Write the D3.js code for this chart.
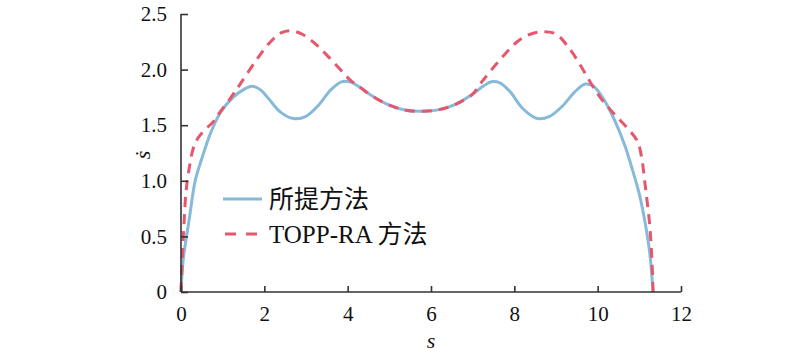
<!DOCTYPE html>
<html><head><meta charset="utf-8">
<script src="https://cdn.jsdelivr.net/npm/d3@7"></script>
<style>
body{margin:0;background:#fff}
svg text, svg tspan{font-family:"Liberation Serif","Times New Roman",serif !important}
svg text.cjk, svg tspan.cjk{font-family:"Noto Sans CJK SC",sans-serif !important}
</style>
</head><body>
<svg id="c" width="800" height="356"></svg>
<script>
const xTicks = [0, 2, 4, 6, 8, 10, 12];
const yTicks = [0, 0.5, 1.0, 1.5, 2.0, 2.5];
const yTickLabels = ["0", "0.5", "1.0", "1.5", "2.0", "2.5"];
const seriesNames = ["所提方法", "TOPP-RA ", "方法"];

const proposedS = [0,0.05,0.1,0.2,0.34,0.5,0.7,0.94,1.25,1.5,1.7,1.9,2.1,2.38,2.7,3.0,3.3,3.6,3.85,4.05,4.3,4.6,5.0,5.4,5.8,6.2,6.6,7.0,7.25,7.45,7.65,7.9,8.2,8.55,8.85,9.15,9.45,9.7,9.9,10.15,10.4,10.65,10.85,11.0,11.15,11.25,11.33];
const proposedV = [0,0.28,0.42,0.66,1.0,1.2,1.42,1.61,1.75,1.82,1.85,1.82,1.74,1.62,1.56,1.58,1.68,1.82,1.89,1.89,1.84,1.76,1.68,1.635,1.625,1.64,1.69,1.78,1.85,1.89,1.88,1.80,1.65,1.56,1.58,1.67,1.80,1.87,1.85,1.73,1.55,1.32,1.08,0.88,0.6,0.35,0];

const toppS = [0,0.03,0.07,0.12,0.2,0.3,0.4,0.55,0.77,0.94,1.18,1.42,1.78,2.1,2.4,2.62,2.9,3.2,3.5,3.8,4.05,4.3,4.6,5.0,5.4,5.8,6.2,6.6,7.0,7.2,7.5,7.8,8.1,8.4,8.7,9.0,9.3,9.6,9.85,10.1,10.4,10.7,10.95,11.05,11.15,11.25,11.3,11.33];
const toppV = [0,0.3,0.6,0.9,1.12,1.3,1.38,1.45,1.53,1.62,1.74,1.87,2.07,2.23,2.33,2.35,2.32,2.24,2.13,2.01,1.91,1.84,1.76,1.68,1.635,1.625,1.64,1.69,1.78,1.88,2.02,2.15,2.26,2.32,2.34,2.32,2.2,2.03,1.87,1.73,1.6,1.48,1.36,1.22,0.93,0.6,0.3,0];

const svg = d3.select("#c");
const x = d3.scaleLinear().domain([0, 12]).range([181, 681]);
const y = d3.scaleLinear().domain([0, 2.5]).range([292, 14]);
const axisColor = "#333";
const serifFont = "Liberation Serif";
const cjkFont = "Noto Sans CJK SC";

const line = d3.line().x(d => x(d[0])).y(d => y(d[1])).curve(d3.curveCatmullRom.alpha(0.5));
const proposed = proposedS.map((s, i) => [s, proposedV[i]]);
const topp = toppS.map((s, i) => [s, toppV[i]]);

svg.append("path").datum(proposed).attr("d", line)
  .attr("fill", "none").attr("stroke", "#86b9da").attr("stroke-width", 3);
svg.append("path").datum(topp).attr("d", line)
  .attr("fill", "none").attr("stroke", "#e5576c").attr("stroke-width", 3)
  .attr("stroke-dasharray", "10,7");

// axes
const xAxis = d3.axisBottom(x).tickValues(xTicks).tickSize(-6).tickPadding(14).tickFormat(d3.format("d"));
const gx = svg.append("g").attr("transform", "translate(0,292)").call(xAxis);
const yAxis = d3.axisLeft(y).tickValues(yTicks).tickSize(-7).tickPadding(14).tickFormat((d, i) => yTickLabels[i]);
const gy = svg.append("g").attr("transform", "translate(181,0)").call(yAxis);
[gx, gy].forEach(g => {
  g.attr("font-family", serifFont).attr("font-size", 21);
  g.select(".domain").attr("stroke", axisColor).attr("stroke-width", 1.6);
  g.selectAll(".tick line").attr("stroke", axisColor).attr("stroke-width", 1.6);
  g.selectAll(".tick text").attr("fill", "#111")
    .style("font-family", serifFont, "important").style("font-size", "21px");
});
gx.select(".domain").attr("d", "M181,0H681");
gy.select(".domain").attr("d", "M0,292V14");
gx.selectAll(".tick text").attr("dy", "0.71em");

svg.append("text").attr("x", 431).attr("y", 348).attr("text-anchor", "middle")
  .style("font-family", serifFont, "important").style("font-style", "italic").style("font-size", "22px")
  .attr("fill", "#111").text("s");
svg.append("text").attr("transform", "translate(150,155) rotate(-90)").attr("text-anchor", "middle")
  .style("font-family", serifFont, "important").style("font-style", "italic").style("font-size", "22px")
  .attr("fill", "#111").text("ṡ");

// legend
const lg = svg.append("g");
lg.append("line").attr("x1", 223).attr("x2", 262).attr("y1", 199).attr("y2", 199)
  .attr("stroke", "#86b9da").attr("stroke-width", 3);
lg.append("line").attr("x1", 225).attr("x2", 262).attr("y1", 234).attr("y2", 234)
  .attr("stroke", "#e5576c").attr("stroke-width", 3).attr("stroke-dasharray", "11,10");
lg.append("text").attr("class", "cjk").attr("x", 269).attr("y", 208)
  .style("font-family", cjkFont, "important").style("font-size", "25px").attr("fill", "#111").text(seriesNames[0]);
const t2 = lg.append("text").attr("x", 269).attr("y", 243).style("font-size", "25px").attr("fill", "#111");
t2.append("tspan").style("font-family", serifFont, "important").text(seriesNames[1]);
t2.append("tspan").attr("class", "cjk").style("font-family", cjkFont, "important").text(seriesNames[2]);
</script>
</body></html>
